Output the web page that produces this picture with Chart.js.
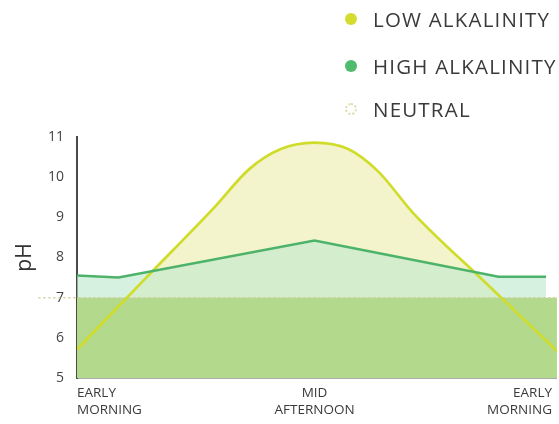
<!DOCTYPE html>
<html>
<head>
<meta charset="utf-8">
<script src="https://cdn.jsdelivr.net/npm/chart.js@4.4.1/dist/chart.umd.min.js"></script>
<style>
  html, body { margin: 0; padding: 0; background: #fff; }
  #wrap { position: relative; width: 559px; height: 424px; overflow: hidden; }
  #c { position: absolute; left: 0; top: 0; }
  .leg { position: absolute; left: 345px; font-family: "Open Sans", sans-serif; font-size: 20.5px; letter-spacing: 1.2px; color: #3a3a3a; display: flex; align-items: center; white-space: nowrap; }
  .dot { width: 12px; height: 12px; border-radius: 50%; margin-right: 16px; box-sizing: border-box; flex: none; }
</style>
</head>
<body>
<div id="wrap">
  <canvas id="c" width="559" height="424"></canvas>
  <div class="leg" style="top:5px"><span class="dot" style="background:#d4dc30"></span>LOW ALKALINITY</div>
  <div class="leg" style="top:52px"><span class="dot" style="background:#4fbb6d"></span>HIGH ALKALINITY</div>
  <div class="leg" style="top:95px"><span class="dot" style="border:2px dotted #dcd9a6"></span>NEUTRAL</div>
</div>
<script>
// time of day in hours from early morning (0) through mid afternoon (12) to early morning (24)
const lowHours  = [0, 3.5, 7, 8.7, 10.3, 12, 13.7, 15.2, 17, 20.5, 24.25];
const lowPH     = [5.71, 7.5, 9.28, 10.2, 10.7, 10.86, 10.7, 10.15, 9.1, 7.44, 5.67];
const highHours = [0, 2.1, 12, 21.3, 23.7];
const highPH    = [7.55, 7.5, 8.42, 7.52, 7.52];
const neutralHours = [-1.95, 24.25];
const neutralPH    = [7, 7];
const tickHours  = [0, 12, 24];
const tickLabels = [["EARLY", "MORNING"], ["MID", "AFTERNOON"], ["EARLY", "MORNING"]];

const pts = (xs, ys) => xs.map((x, i) => ({ x: x, y: ys[i] }));

new Chart(document.getElementById('c'), {
  type: 'line',
  data: {
    datasets: [
      { label: 'NEUTRAL', data: pts(neutralHours, neutralPH), borderColor: '#cfcf9a', borderWidth: 1.5,
        borderDash: [2, 3], pointRadius: 0, fill: false, clip: false },
      { label: 'neutral fill', data: pts([0, 24.25], neutralPH), borderWidth: 0, borderColor: 'rgba(0,0,0,0)',
        backgroundColor: '#b3d98c', pointRadius: 0, fill: 'start' },
      { label: 'HIGH ALKALINITY', data: pts(highHours, highPH), borderColor: '#4db36a', borderWidth: 2.5,
        backgroundColor: 'rgba(190,232,205,0.62)', pointRadius: 0, fill: 'start', tension: 0 },
      { label: 'LOW ALKALINITY', data: pts(lowHours, lowPH), borderColor: '#cfdc2a', borderWidth: 2.7,
        backgroundColor: '#f3f4cc', pointRadius: 0, fill: 'start', cubicInterpolationMode: 'monotone' }
    ]
  },
  options: {
    responsive: false,
    animation: false,
    events: [],
    layout: { padding: { top: 137, right: 0, left: 0, bottom: 0 } },
    plugins: {
      legend: { display: false },
      tooltip: { enabled: false },
      filler: { drawTime: 'beforeDatasetsDraw' }
    },
    scales: {
      x: {
        type: 'linear', min: 0, max: 24.25,
        grid: { display: false, drawTicks: false },
        border: { display: true, color: '#5a5a5a', width: 1.5 },
        afterBuildTicks: s => { s.ticks = tickHours.map(v => ({ value: v })); },
        afterFit: s => { s.height = 46; },
        ticks: {
          align: 'inner', maxRotation: 0, padding: 7, color: '#3a3a3a',
          font: { family: 'Open Sans', size: 13.5, lineHeight: 1.25 },
          callback: (v) => tickLabels[tickHours.indexOf(v)]
        }
      },
      y: {
        min: 5, max: 11,
        grid: { display: false, drawTicks: false },
        border: { display: true, color: '#4a4a4a', width: 2 },
        afterFit: s => { s.width = 77; },
        ticks: { stepSize: 1, padding: 13, color: '#444', font: { family: 'Open Sans', size: 14 } },
        title: { display: true, text: 'pH', color: '#333', font: { family: 'Open Sans', size: 21 }, padding: { top: 12, bottom: 0 } }
      }
    }
  }
});
</script>
</body>
</html>
